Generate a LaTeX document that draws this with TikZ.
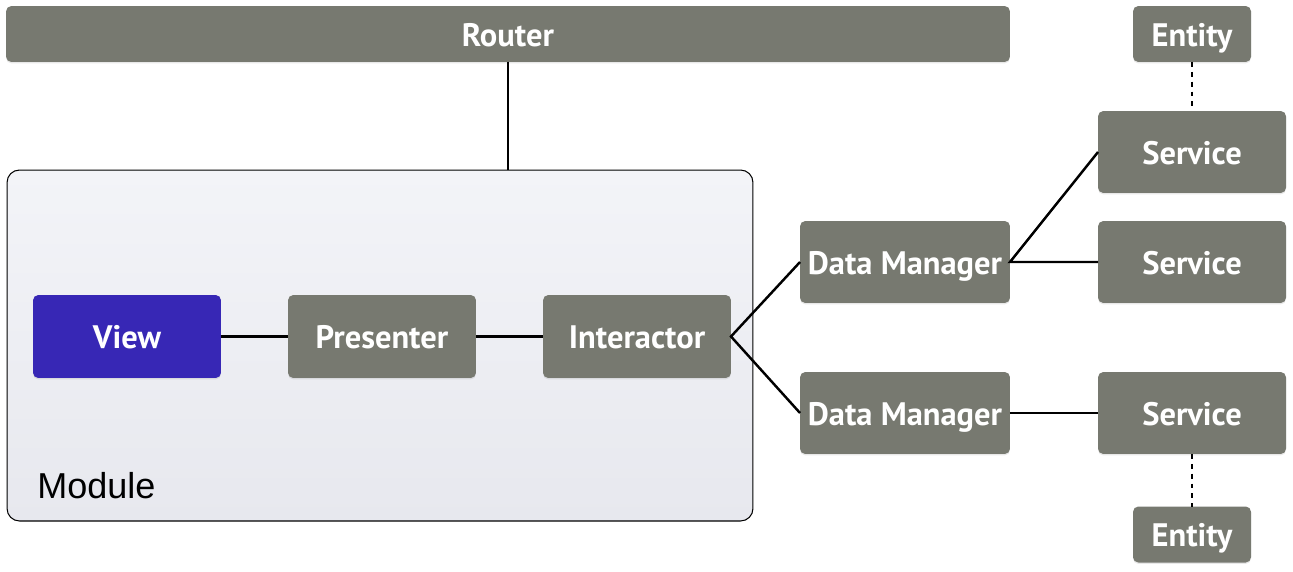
\documentclass[tikz,border=0pt]{standalone}
\usepackage{fontspec}
\setmainfont{Liberation Sans}
\newfontfamily\boxfont{PT Sans}
\usetikzlibrary{shadows}
\definecolor{boxgray}{HTML}{777970}
\definecolor{viewblue}{HTML}{3727B5}
\definecolor{modtop}{HTML}{F3F4F8}
\definecolor{modbot}{HTML}{E7E8EE}
\tikzset{
  graybox/.style={fill=boxgray, rounded corners=3pt, inner sep=0pt, outer sep=0pt,
    text=white, font=\boxfont\bfseries\fontsize{18.5}{20}\selectfont,
    text height=14pt, text depth=0pt,
    drop shadow={opacity=0.18, shadow xshift=0pt, shadow yshift=-0.8pt}},
  bluebox/.style={graybox, fill=viewblue},
  conn/.style={draw=black, line width=1.4pt},
  dashconn/.style={draw=black, line width=0.75pt, dash pattern=on 2.8pt off 2.8pt},
}
\begin{document}
\begin{tikzpicture}[x=0.02cm, y=-0.02cm]
\useasboundingbox (0,0) rectangle (1293,571);
% module
\node[rounded corners=7pt, draw=black, line width=0.6pt, top color=modtop, bottom color=modbot,
  minimum width=14.92cm, minimum height=7.02cm, inner sep=0pt, outer sep=0pt] (module) at (380,345.5) {};
\node[anchor=base west, font=\fontsize{20.5}{22}\selectfont, inner sep=0pt] (modlabel) at (37,498) {Module};
% boxes
\node[graybox, minimum width=20.08cm, minimum height=1.12cm] (router) at (508,34) {Router};
\node[graybox, minimum width=2.36cm, minimum height=1.12cm] (entity1) at (1192,34) {Entity};
\node[graybox, minimum width=2.36cm, minimum height=1.12cm] (entity2) at (1192,534.5) {Entity};
\node[graybox, minimum width=3.76cm, minimum height=1.64cm] (service1) at (1192,152) {Service};
\node[graybox, minimum width=3.76cm, minimum height=1.64cm] (service2) at (1192,262) {Service};
\node[graybox, minimum width=3.76cm, minimum height=1.64cm] (service3) at (1192,413) {Service};
\node[graybox, minimum width=4.2cm, minimum height=1.64cm] (dm1) at (905,262) {Data Manager};
\node[graybox, minimum width=4.2cm, minimum height=1.64cm] (dm2) at (905,413) {Data Manager};
\node[bluebox, minimum width=3.76cm, minimum height=1.66cm] (view) at (127,336.5) {View};
\node[graybox, minimum width=3.76cm, minimum height=1.66cm] (presenter) at (382,336.5) {Presenter};
\node[graybox, minimum width=3.76cm, minimum height=1.66cm] (interactor) at (637,336.5) {Interactor};
% connectors
\draw[conn] (router.south) -- (router.south |- module.north);
\draw[conn] (view.east) -- (presenter.west);
\draw[conn] (presenter.east) -- (interactor.west);
\draw[conn] (dm1.west) -- (interactor.east) -- (dm2.west);
\draw[conn] (service1.west) -- (dm1.east) -- (service2.west);
\draw[conn] (dm2.east) -- (service3.west);
\draw[dashconn] (entity1.south) -- (service1.north);
\draw[dashconn] (service3.south) -- (entity2.north);
\end{tikzpicture}
\end{document}
